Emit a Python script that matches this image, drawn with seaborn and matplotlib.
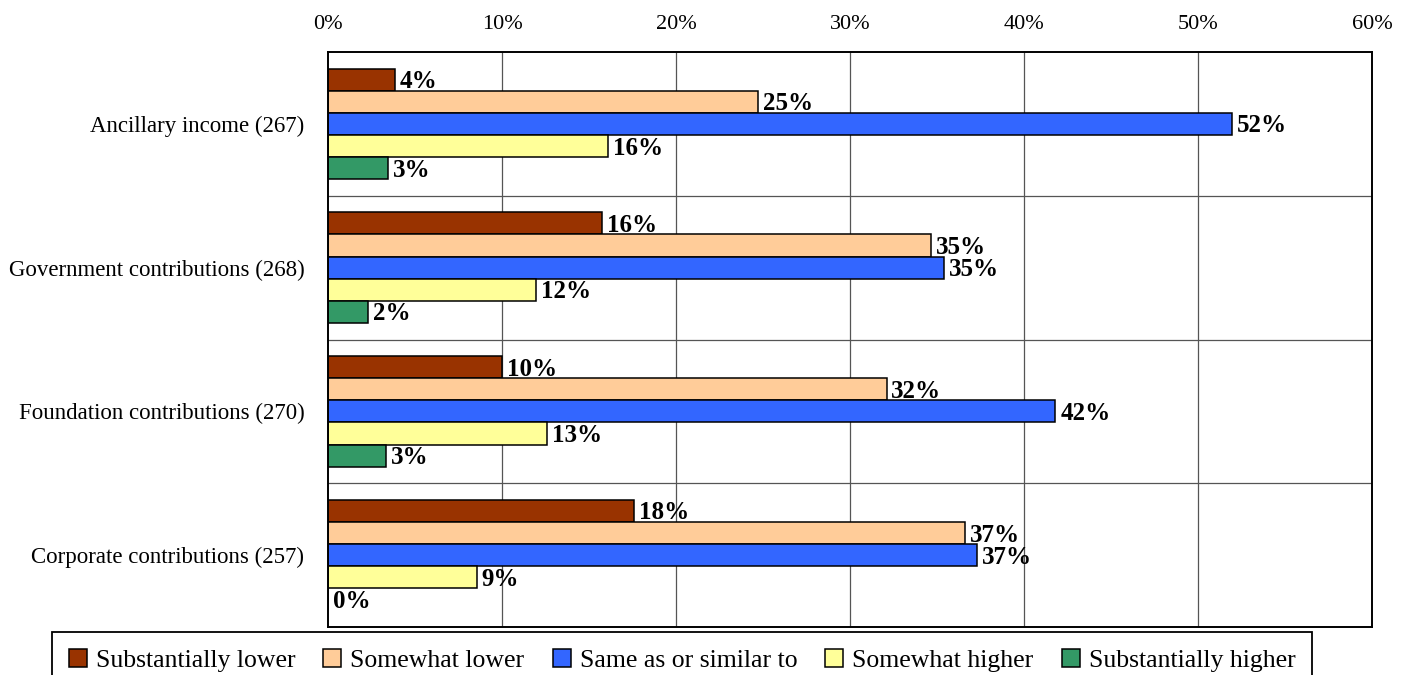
import matplotlib
matplotlib.use("Agg")
import matplotlib.pyplot as plt
from matplotlib.patches import Patch
import seaborn as sns
import pandas as pd

# Survey categories (respondent counts in parentheses)
categories = [
    "Ancillary income (267)",
    "Government contributions (268)",
    "Foundation contributions (270)",
    "Corporate contributions (257)",
]
responses = [
    "Substantially lower",
    "Somewhat lower",
    "Same as or similar to",
    "Somewhat higher",
    "Substantially higher",
]
# Percent of respondents per category, in the order of `responses`
ancillary = [3.85, 24.7, 51.95, 16.1, 3.45]
government = [15.75, 34.66, 35.4, 11.95, 2.3]
foundation = [10.0, 32.1, 41.8, 12.6, 3.33]
corporate = [17.6, 36.6, 37.3, 8.56, 0.0]

colors = ["#993300", "#FFCC99", "#3366FF", "#FFFF99", "#339966"]
x_ticks = [0, 10, 20, 30, 40, 50, 60]

rows = []
for cat, vals in zip(categories, [ancillary, government, foundation, corporate]):
    for resp, v in zip(responses, vals):
        rows.append({"category": cat, "response": resp, "pct": v})
df = pd.DataFrame(rows)

sns.set_theme(style="white")
plt.rcParams["font.family"] = ["Liberation Serif", "DejaVu Serif"]
plt.rcParams["text.color"] = "black"
plt.rcParams["xtick.color"] = "black"
plt.rcParams["ytick.color"] = "black"
plt.rcParams["xtick.labelcolor"] = "black"
plt.rcParams["ytick.labelcolor"] = "black"

fig = plt.figure(figsize=(14.1, 6.75), dpi=100)
ax = fig.add_axes([328 / 1410, 1 - 627 / 675, (1372 - 328) / 1410, (627 - 52) / 675])

sns.barplot(
    data=df, x="pct", y="category", hue="response",
    order=categories, hue_order=responses, palette=colors,
    orient="h", width=0.77, edgecolor="black", linewidth=1.1,
    saturation=1, errorbar=None, legend=False, ax=ax,
)

ax.set_xlim(0, 60)
ax.set_ylim(3.5, -0.5)
ax.set_xticks(x_ticks)
ax.set_xticklabels([f"{t}%" for t in x_ticks], fontsize=16)
ax.xaxis.tick_top()
ax.tick_params(axis="x", length=0, pad=13, labelcolor="black")
ax.tick_params(axis="y", length=0, pad=17, labelsize=16.5, labelcolor="black")
ax.set_xlabel("")
ax.set_ylabel("")

# Vertical grid lines and horizontal group separators
for t in x_ticks[1:-1]:
    ax.axvline(t, color="#555555", linewidth=0.9, zorder=0)
for yb in [0.5, 1.5, 2.5]:
    ax.axhline(yb, color="#555555", linewidth=0.9, zorder=0)

for sp in ax.spines.values():
    sp.set_visible(True)
    sp.set_color("black")
    sp.set_linewidth(1.4)

# Value labels at the end of each bar
for container in ax.containers:
    for bar, v in zip(container.patches, container.datavalues):
        yc = bar.get_y() + bar.get_height() / 2
        ax.annotate(
            f"{v:.0f}%", xy=(v, yc), xytext=(3.5, -1.5), textcoords="offset points",
            ha="left", va="center", fontsize=18, fontweight="bold", color="black",
        )

handles = [Patch(facecolor=c, edgecolor="black", linewidth=1.1) for c in colors]
leg = fig.legend(
    handles, responses, loc="upper left", ncol=5, mode="expand",
    bbox_to_anchor=(52 / 1410, 1 - 632 / 675 - 0.01, 1260 / 1410, 0.01),
    fontsize=18.5, frameon=True, fancybox=False,
    handlelength=0.7, handleheight=0.7, handletextpad=0.35,
    borderpad=0.65, borderaxespad=0, columnspacing=0.8,
    labelcolor="black",
)
frame = leg.get_frame()
frame.set_edgecolor("black")
frame.set_linewidth(1.3)
frame.set_alpha(1)

fig.savefig("out.png", dpi=100)
